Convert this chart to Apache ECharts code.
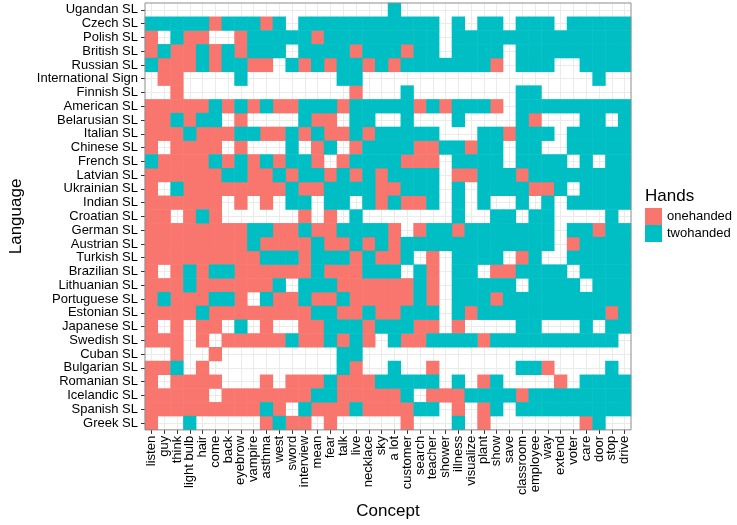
<!DOCTYPE html>
<html>
<head>
<meta charset="utf-8">
<script src="https://cdn.jsdelivr.net/npm/echarts@6/dist/echarts.min.js"></script>
<style>
html,body{margin:0;padding:0;background:#fff;}
#chart{width:737px;height:525px;}
</style>
</head>
<body>
<div id="chart"></div>
<script>
// Categories
const concepts = ['listen','guy','think','light bulb','hair','come','back','eyebrow','vampire','asthma','west','sword','interview','mean','fear','talk','live','necklace','sky','a lot','customer','search','teacher','shower','illness','visualize','plant','show','save','classroom','employee','way','extend','voter','care','door','stop','drive'];
const languages = ['Ugandan SL','Czech SL','Polish SL','British SL','Russian SL','International Sign','Finnish SL','American SL','Belarusian SL','Italian SL','Chinese SL','French SL','Latvian SL','Ukrainian SL','Indian SL','Croatian SL','German SL','Austrian SL','Turkish SL','Brazilian SL','Lithuanian SL','Portuguese SL','Estonian SL','Japanese SL','Swedish SL','Cuban SL','Bulgarian SL','Romanian SL','Icelandic SL','Spanish SL','Greek SL'];
const handsLabels = ['onehanded','twohanded']; // code 1, code 2 ; 0 = no data

// Hands per concept for each language (0 none, 1 onehanded, 2 twohanded)
const ugandan    = [0,0,0,0,0,0,0,0,0,0,0,0,0, 0,0,0,0,0,0,2,0,0,0,0,0,0, 0,0,0,0,0,0,0,0,0,0,0,0];
const czech      = [2,2,2,2,2,1,2,2,2,1,2,0,2, 2,2,2,2,2,2,2,2,2,2,0,2,0, 2,2,0,2,2,2,0,2,2,2,2,2];
const polish     = [1,0,2,1,1,0,0,1,2,2,2,2,2, 1,2,2,2,2,2,2,2,2,2,0,2,2, 2,2,2,2,2,2,2,2,2,2,2,2];
const british    = [1,2,1,1,2,1,2,1,2,2,2,0,2, 2,2,2,1,2,2,2,1,2,2,0,2,2, 2,2,0,2,2,2,2,2,2,2,2,2];
const russian    = [2,1,1,1,2,1,2,2,1,1,0,2,1, 2,1,2,2,1,2,1,2,2,2,2,2,2, 2,1,0,2,2,2,0,0,2,2,2,2];
const intlSign   = [0,1,1,0,0,0,0,2,0,0,0,0,0, 0,0,2,2,0,0,0,0,0,0,0,0,0, 0,0,0,0,0,0,0,0,0,2,0,0];
const finnish    = [0,0,1,0,0,0,0,0,0,0,0,0,0, 0,0,0,1,0,0,0,2,0,0,0,0,0, 0,0,0,2,2,0,0,0,0,0,0,0];
const american   = [1,1,1,1,1,2,1,2,1,2,1,1,2, 2,2,1,2,2,2,2,2,1,2,1,2,2, 2,1,0,2,2,2,2,2,2,2,2,2];
const belarusian = [1,1,2,1,2,2,0,1,0,0,0,0,2, 1,1,0,2,2,0,0,2,0,0,0,2,0, 0,0,0,2,1,0,0,0,2,2,0,2];
const italian    = [1,1,1,2,1,1,1,2,2,1,1,2,1, 2,1,1,2,1,2,2,2,2,2,0,0,0, 2,2,1,2,2,2,0,2,2,2,2,2];
const chinese    = [1,0,1,1,1,1,0,1,0,0,0,2,0, 1,2,0,1,2,2,2,2,1,1,2,2,1, 2,2,0,2,2,0,0,2,2,2,2,2];
const french     = [2,1,1,1,1,2,1,2,1,2,1,2,2, 1,0,1,2,2,2,2,1,1,1,0,2,2, 2,2,0,2,2,2,2,0,2,0,2,2];
const latvian    = [1,1,1,1,1,1,2,2,1,1,2,1,2, 2,1,2,1,2,1,2,2,2,2,0,1,1, 2,2,2,1,2,2,2,2,2,2,2,2];
const ukrainian  = [1,0,2,1,1,1,1,1,1,1,1,2,1, 1,2,2,2,2,1,1,2,2,2,0,2,0, 2,2,2,2,1,1,2,0,2,2,2,2];
const indian     = [1,1,1,1,1,1,0,1,0,1,0,2,2, 0,2,2,0,2,1,2,1,1,2,0,2,0, 2,0,0,2,0,2,0,2,2,2,2,2];
const croatian   = [1,1,0,1,2,1,0,0,0,0,0,0,1, 0,1,0,2,0,0,0,0,0,0,0,2,0, 0,2,2,0,2,2,0,0,0,0,2,0];
const german     = [1,1,1,1,1,1,1,1,2,2,1,1,2, 1,1,2,2,2,2,1,0,1,2,2,1,2, 2,2,2,2,2,2,0,2,2,1,2,2];
const austrian   = [1,1,1,1,1,1,1,1,2,1,1,1,1, 2,1,1,2,1,2,1,2,2,2,2,2,2, 2,2,2,2,2,2,0,1,2,2,2,2];
const turkish    = [1,1,1,1,1,1,1,1,1,2,2,2,1, 2,2,2,1,2,1,1,2,0,1,0,2,2, 2,2,0,1,2,0,0,2,2,2,2,2];
const brazilian  = [1,0,1,2,1,2,2,1,1,1,1,1,1, 2,1,1,1,2,2,2,0,2,1,0,2,2, 0,1,1,2,2,2,2,0,2,2,2,2];
const lithuanian = [1,1,1,2,1,1,1,1,1,1,2,0,2, 2,2,1,1,1,1,1,1,2,1,0,2,2, 2,2,2,0,2,2,2,2,0,2,2,2];
const portuguese = [1,2,1,1,1,2,2,1,0,2,1,1,2, 1,1,2,1,1,1,1,1,2,1,0,2,2, 2,1,2,2,2,2,2,2,2,2,2,2];
const estonian   = [1,1,1,1,2,1,1,1,1,1,1,1,1, 2,2,1,1,2,1,1,2,2,2,0,2,1, 2,2,2,2,2,2,2,2,2,2,1,2];
const japanese   = [1,0,1,0,1,1,0,2,0,1,0,0,1, 1,2,2,2,1,2,2,2,1,1,0,1,0, 0,0,0,2,2,0,0,0,2,0,2,2];
const swedish    = [1,1,1,0,1,0,1,1,1,1,1,2,1, 1,2,1,2,1,0,2,1,1,2,2,2,2, 1,2,2,2,2,2,2,2,2,2,2,0];
const cuban      = [0,0,1,0,0,1,0,0,0,0,0,0,0, 0,0,2,2,0,0,0,0,0,0,0,0,0, 0,0,0,0,0,0,0,0,0,0,0,0];
const bulgarian  = [1,1,2,0,1,0,0,0,0,0,0,0,0, 0,0,2,1,0,0,2,0,0,1,0,0,0, 0,0,0,2,2,1,0,0,0,0,2,0];
const romanian   = [1,0,1,1,1,1,0,0,0,1,0,1,1, 1,2,1,1,1,2,2,2,2,2,0,2,0, 1,2,0,0,0,0,1,0,2,2,2,2];
const icelandic  = [1,1,1,1,1,0,1,1,1,1,1,1,1, 2,2,1,1,1,1,1,2,0,1,1,1,2, 2,2,2,1,2,2,2,2,2,2,2,2];
const spanish    = [1,1,1,1,1,1,1,1,1,2,1,0,2, 1,1,1,2,1,1,1,1,2,2,0,1,0, 1,2,0,2,2,2,2,2,2,2,2,2];
const greek      = [1,0,0,2,0,0,0,0,0,1,2,1,1, 0,1,0,0,0,0,0,1,0,0,0,2,0, 1,0,0,0,0,0,0,0,1,2,0,0];

const rows = [ugandan,czech,polish,british,russian,intlSign,finnish,american,belarusian,italian,chinese,french,latvian,ukrainian,indian,croatian,german,austrian,turkish,brazilian,lithuanian,portuguese,estonian,japanese,swedish,cuban,bulgarian,romanian,icelandic,spanish,greek];

const oneData = [], twoData = [];
rows.forEach((row, r) => {
  row.forEach((v, c) => {
    if (v === 1) oneData.push([c, r, 1]);
    else if (v === 2) twoData.push([c, r, 2]);
  });
});

const FONT = '"Liberation Sans", Arial, Helvetica, sans-serif';
const chart = echarts.init(document.getElementById('chart'), null, {renderer: 'canvas'});
chart.setOption({
  animation: false,
  backgroundColor: '#ffffff',
  textStyle: {fontFamily: FONT},
  title: {
    text: 'Hands', left: 645, top: 188, padding: 0,
    textStyle: {fontSize: 17, fontWeight: 'normal', color: '#000', fontFamily: FONT}
  },
  legend: {
    orient: 'vertical', left: 645, top: 208, padding: 0,
    itemWidth: 17, itemHeight: 17, itemGap: 0,
    icon: 'rect',
    selectedMode: false,
    data: handsLabels,
    textStyle: {fontSize: 13, color: '#000', fontFamily: FONT}
  },
  grid: {
    left: 138, top: 3, width: 493, height: 428,
    show: true, z: 10, backgroundColor: 'transparent',
    borderColor: '#8c8c8c', borderWidth: 1
  },
  xAxis: {
    type: 'category', data: concepts,
    name: 'Concept', nameLocation: 'middle', nameGap: 66,
    nameTextStyle: {fontSize: 17, color: '#000', fontFamily: FONT},
    axisLine: {show: false},
    axisTick: {show: true, alignWithLabel: true, length: 4, lineStyle: {color: '#333'}},
    axisLabel: {rotate: 90, interval: 0, fontSize: 13, color: '#000', margin: 6, fontFamily: FONT},
    splitLine: {show: true, alignWithLabel: true, lineStyle: {color: '#ebebeb', width: 1}}
  },
  yAxis: {
    type: 'category', data: languages, inverse: true,
    name: 'Language', nameLocation: 'middle', nameGap: 120, nameRotate: 90,
    nameTextStyle: {fontSize: 17, color: '#000', fontFamily: FONT},
    axisLine: {show: false},
    axisTick: {show: true, alignWithLabel: true, length: 4, lineStyle: {color: '#333'}},
    axisLabel: {interval: 0, fontSize: 13, color: '#000', margin: 7, fontFamily: FONT},
    splitLine: {show: true, alignWithLabel: true, lineStyle: {color: '#ebebeb', width: 1}}
  },
  series: [
    {name: 'onehanded', type: 'heatmap', data: oneData, itemStyle: {color: '#F8766D'}, emphasis: {disabled: true}},
    {name: 'twohanded', type: 'heatmap', data: twoData, itemStyle: {color: '#00BFC4'}, emphasis: {disabled: true}}
  ]
});
</script>
</body>
</html>
